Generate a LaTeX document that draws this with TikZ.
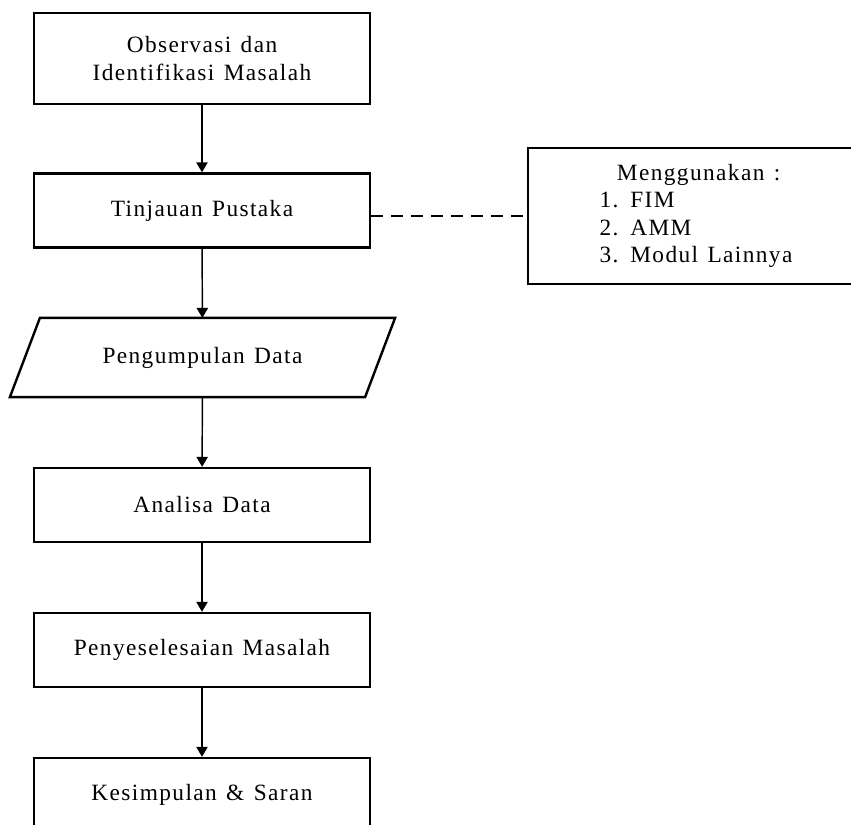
\documentclass[tikz,border=0pt]{standalone}
\usepackage{fontspec}
\setmainfont{Liberation Serif}[LetterSpace=6,WordSpace=1.3]
\usetikzlibrary{arrows.meta,positioning}
\tikzset{
  fc diagram/.style={x=0.75pt, y=-0.75pt,
    font=\fontsize{17.5pt}{20.5pt}\selectfont},
  fc box/.style={draw, line width=1.8pt, minimum width=252pt,
    minimum height=55.5pt, align=center, inner sep=0pt},
  fc arrow/.style={-{Triangle[length=7.5pt,width=8.5pt]}, line width=1.1pt},
  fc link/.style={line width=1.6pt, dash pattern=on 9pt off 6pt}
}
\begin{document}
\begin{tikzpicture}[fc diagram]
\useasboundingbox (0,0) rectangle (851,825);
\node[fc box,minimum height=68pt] (obs) at (202,58.5) {Observasi dan\\Identifikasi Masalah};
\node[fc box] (pustaka) at (202,210.5) {Tinjauan Pustaka};
\node[minimum width=266pt,minimum height=59pt,inner sep=0pt] (data) at (202.5,357.5) {Pengumpulan Data};
\node[fc box] (analisa) at (202,505) {Analisa Data};
\node[fc box] (solusi) at (202,650) {Penyeselesaian Masalah};
\node[fc box] (simpulan) at (202,795) {Kesimpulan \& Saran};
\node[fc box,minimum width=252pt,minimum height=102pt,align=left] (modul) at (696,216)
  {\hspace*{13pt}Menggunakan :\\1. FIM\\2. AMM\\3. Modul Lainnya};
% parallelogram around the data node
\draw[line width=1.8pt] ([xshift=11.25pt]data.north west) -- ([xshift=11.25pt]data.north east)
  -- ([xshift=-11.25pt]data.south east) -- ([xshift=-11.25pt]data.south west) -- cycle;
\draw[fc arrow] (obs) -- (pustaka);
\draw[fc arrow] (pustaka) -- (data);
\draw[fc arrow] (data) -- (analisa);
\draw[fc arrow] (analisa) -- (solusi);
\draw[fc arrow] (solusi) -- (simpulan);
\draw[fc link] (pustaka.east |- modul.west) -- (modul.west);
\end{tikzpicture}
\end{document}
